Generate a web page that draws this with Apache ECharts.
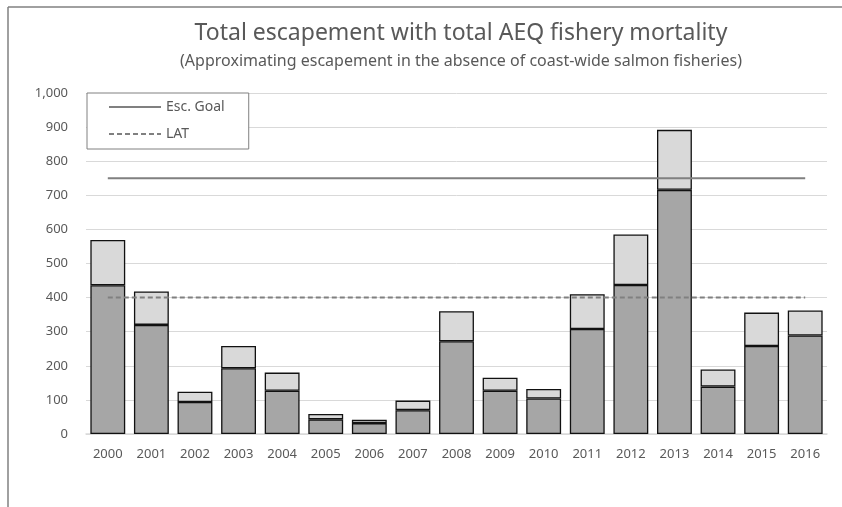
<!DOCTYPE html>
<html>
<head>
<meta charset="utf-8">
<script src="https://cdn.jsdelivr.net/npm/echarts@6/dist/echarts.min.js"></script>
<style>html,body{margin:0;padding:0;background:#fff;}#c{width:842px;height:507px;}</style>
</head>
<body>
<div id="c"></div>
<script>
const years = ['2000','2001','2002','2003','2004','2005','2006','2007','2008','2009','2010','2011','2012','2013','2014','2015','2016'];
const escapement = [436,320,94,193,127,43,32,70,272,127,104,308,437,716,139,258,289];
const aeqMortality = [133,98,30,65,53,16,10,28,88,38,28,102,148,176,50,98,73];
const escGoal = [750,750,750,750,750,750,750,750,750,750,750,750,750,750,750,750,750];
const lat = [400,400,400,400,400,400,400,400,400,400,400,400,400,400,400,400,400];
const titleText = 'Total escapement with total AEQ fishery mortality';
const subtitleText = '(Approximating escapement in the absence of coast-wide salmon fisheries)';

const chart = echarts.init(document.getElementById('c'), null, {renderer:'canvas'});
const font = 'Noto Sans';
chart.setOption({
  animation:false,
  backgroundColor:'#fff',
  title:[
    {text:titleText, left:456, textAlign:'center', top:17, textStyle:{fontFamily:font, fontSize:23, fontWeight:'normal', color:'#595959'}},
    {text:subtitleText, left:456, textAlign:'center', top:48, textStyle:{fontFamily:font, fontSize:16, fontWeight:'normal', color:'#595959'}}
  ],
  grid:{left:86, right:15, top:93, bottom:73, containLabel:false},
  legend:{
    orient:'vertical', left:87, top:93,
    data:['Esc. Goal','LAT'],
    itemWidth:52, itemHeight:14, itemGap:13,
    padding:[7,24,8,21],
    borderColor:'#808080', borderWidth:1, backgroundColor:'#fff',
    itemStyle:{opacity:0},
    textStyle:{fontFamily:font, fontSize:14, color:'#595959'}
  },
  xAxis:{
    type:'category', data:years,
    axisLine:{lineStyle:{color:'#d9d9d9', width:1.5}},
    axisTick:{show:false},
    axisLabel:{fontFamily:font, fontSize:13, color:'#595959', margin:14}
  },
  yAxis:{
    type:'value', min:0, max:1000, interval:100,
    axisLine:{show:false}, axisTick:{show:false},
    splitLine:{lineStyle:{color:'#d9d9d9', width:1}},
    axisLabel:{fontFamily:font, fontSize:13, color:'#595959', margin:18,
      formatter:v=>v.toLocaleString('en-US')}
  },
  series:[
    {name:'Escapement', type:'bar', stack:'t', data:escapement, barCategoryGap:'20%',
      itemStyle:{color:'#a6a6a6', borderColor:'#111', borderWidth:1.3}},
    {name:'AEQ mortality', type:'bar', stack:'t', data:aeqMortality,
      itemStyle:{color:'#d9d9d9', borderColor:'#111', borderWidth:1.3}},
    {name:'Esc. Goal', type:'line', data:escGoal, symbol:'none', z:5,
      lineStyle:{color:'#808080', width:2, type:'solid'}, itemStyle:{color:'#808080'}},
    {name:'LAT', type:'line', data:lat, symbol:'none', z:5,
      lineStyle:{color:'#808080', width:2, type:[5,3]}, itemStyle:{color:'#808080'}}
  ],
  graphic:[
    {type:'line', shape:{x1:8, y1:7, x2:842, y2:7}, style:{stroke:'#808080', lineWidth:1.5}, silent:true},
    {type:'line', shape:{x1:8, y1:7, x2:8, y2:507}, style:{stroke:'#808080', lineWidth:1.5}, silent:true}
  ]
});
</script>
</body>
</html>
